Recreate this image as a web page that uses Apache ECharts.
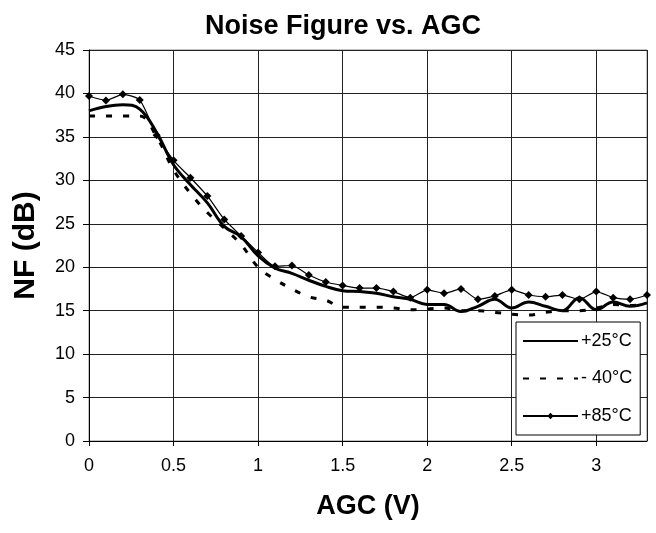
<!DOCTYPE html>
<html>
<head>
<meta charset="utf-8">
<script src="https://cdn.jsdelivr.net/npm/echarts@6/dist/echarts.min.js"></script>
<style>html,body{margin:0;padding:0;background:#fff}#c{width:656px;height:533px}</style>
</head>
<body>
<div id="c"></div>
<script>
var agc = [0,0.1,0.2,0.3,0.4,0.5,0.6,0.7,0.8,0.9,1.0,1.1,1.2,1.3,1.4,1.5,1.6,1.7,1.8,1.9,2.0,2.1,2.2,2.3,2.4,2.5,2.6,2.7,2.8,2.9,3.0,3.1,3.2,3.3];
var nf25 = [38.0,38.5,38.7,38.2,35.5,31.8,29.5,27.4,24.7,23.5,21.3,19.9,19.3,18.5,17.8,17.3,17.2,17.0,16.6,16.3,15.7,15.7,14.9,15.5,16.3,15.3,16.0,15.5,15.0,16.5,15.1,16.0,15.5,15.9];
var nfm40 = [37.4,37.4,37.4,37.4,35.0,31.2,28.5,26.3,24.5,22.6,20.0,18.6,17.5,16.6,16.2,15.4,15.4,15.4,15.3,15.1,15.2,15.3,15.0,15.0,14.8,14.6,14.5,14.8,15.0,15.0,15.3,15.7,15.6,15.8];
var nf85 = [39.7,39.2,39.9,39.25,35.2,32.3,30.3,28.2,25.5,23.6,21.7,20.1,20.2,19.1,18.3,17.9,17.6,17.6,17.2,16.5,17.4,17.0,17.5,16.3,16.7,17.4,16.8,16.6,16.8,16.3,17.2,16.5,16.3,16.8];
var seriesNames = ['+25°C', '- 40°C', '+85°C'];

function pairs(ys){ return agc.map(function(x,i){ return [x, ys[i]]; }); }

var chart = echarts.init(document.getElementById('c'), null, {renderer:'canvas'});
var font = 'Liberation Sans, Arial, sans-serif';
chart.setOption({
  animation: false,
  backgroundColor: '#fff',
  textStyle: {fontFamily: font},
  title: {
    text: 'Noise Figure vs. AGC',
    left: 338, top: 8, textAlign: 'center',
    textStyle: {fontFamily: font, fontSize: 27, fontWeight: 'bold', color: '#000'}
  },
  grid: {left: 89, right: 9, top: 50, bottom: 92, show: true, borderColor: '#888', borderWidth: 1},
  xAxis: {
    type: 'value', min: 0, max: 3.3, interval: 0.5,
    name: 'AGC (V)', nameLocation: 'middle', nameGap: 52,
    nameTextStyle: {fontFamily: font, fontSize: 27, fontWeight: 'bold', color: '#000'},
    axisLine: {show: true, onZero: false, lineStyle: {color: '#000', width: 1}},
    axisTick: {show: true, length: 5, lineStyle: {color: '#000'}},
    axisLabel: {fontFamily: font, fontSize: 18, color: '#000', margin: 16, showMaxLabel: false},
    splitLine: {show: true, lineStyle: {color: '#222', width: 1}}
  },
  yAxis: {
    type: 'value', min: 0, max: 45, interval: 5,
    name: 'NF (dB)', nameLocation: 'middle', nameGap: 48, nameRotate: 90,
    nameTextStyle: {fontFamily: font, fontSize: 30, fontWeight: 'bold', color: '#000'},
    axisLine: {show: true, lineStyle: {color: '#000', width: 1}},
    axisTick: {show: true, length: 6, lineStyle: {color: '#000'}},
    axisLabel: {fontFamily: font, fontSize: 18, color: '#000', margin: 14},
    splitLine: {show: true, lineStyle: {color: '#222', width: 1}}
  },
  legend: {
    orient: 'vertical', left: 516, top: 322,
    data: [
      {name: seriesNames[0], itemStyle: {opacity: 0}},
      {name: seriesNames[1], itemStyle: {opacity: 0}},
      {name: seriesNames[2]}
    ],
    backgroundColor: '#fff', borderColor: '#000', borderWidth: 1,
    padding: [10, 8, 10, 6],
    itemWidth: 55, itemHeight: 8, itemGap: 19.5,
    textStyle: {fontFamily: font, fontSize: 18, color: '#000', padding: [0,0,0,-2]}
  },
  series: [
    {
      name: seriesNames[0], type: 'line', data: pairs(nf25), smooth: 0.4,
      symbol: 'none', lineStyle: {color: '#000', width: 3}, itemStyle: {color: '#000'}, z: 3
    },
    {
      name: seriesNames[1], type: 'line', data: pairs(nfm40), smooth: 0.4,
      symbol: 'none', lineStyle: {color: '#000', width: 3, type: [6, 11]}, itemStyle: {color: '#000'}, z: 2
    },
    {
      name: seriesNames[2], type: 'line', data: pairs(nf85), smooth: 0.2,
      symbol: 'diamond', symbolSize: 8, showAllSymbol: true,
      lineStyle: {color: '#000', width: 1.2}, itemStyle: {color: '#000'}, z: 4
    }
  ]
});
</script>
</body>
</html>
